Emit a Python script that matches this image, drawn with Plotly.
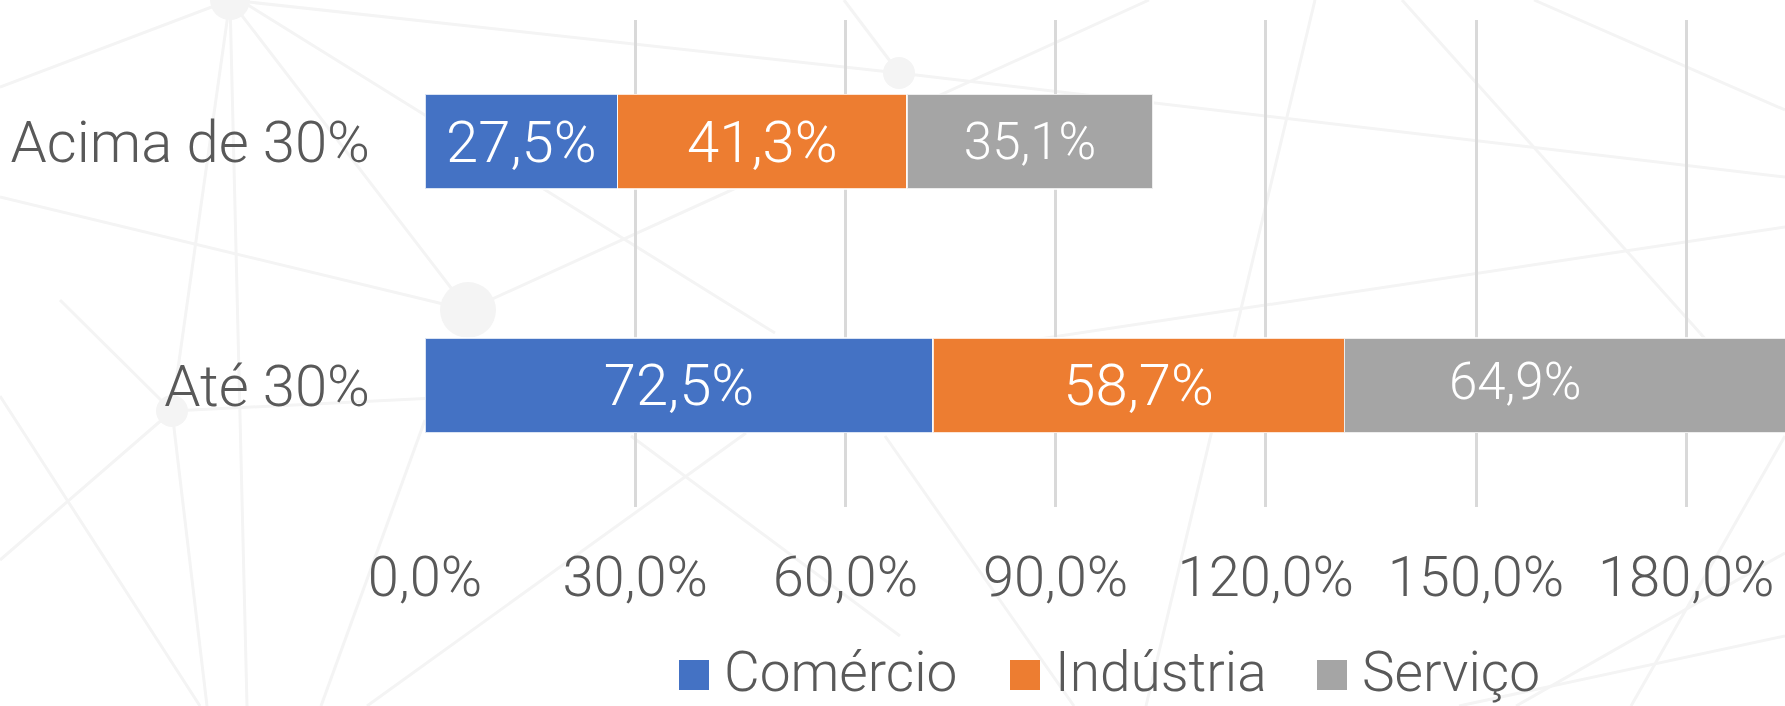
import plotly.graph_objects as go

# ---- data -------------------------------------------------------------
categories = ["Acima de 30%", "Até 30%"]
series_names = ["Comércio", "Indústria", "Serviço"]
comercio = [27.5, 72.5]
industria = [41.3, 58.7]
servico = [35.1, 64.9]
tick_values = [0, 30, 60, 90, 120, 150, 180]

series_values = [comercio, industria, servico]
colors = ["#4472C4", "#ED7D31", "#A5A5A5"]
label_sizes = [58, 58, 51]

FONT = "Roboto"
TEXT_GREY = "#595959"

W, H = 1785, 706
M_L, M_R, M_T, M_B = 425, 0, 20, 199
X_MAX = 194.1  # right edge of the plot area, in %


def pct(v):
    return f"{v:.1f}".replace(".", ",") + "%"


fig = go.Figure()

annotations = []
starts = [0.0] * len(categories)
for name, vals, col, fs in zip(series_names, series_values, colors, label_sizes):
    texts = []
    for i, v in enumerate(vals):
        end = starts[i] + v
        if end > X_MAX:
            # bar runs past the visible range: centre its label on the
            # part that lies before the last tick
            texts.append("")
            annotations.append(dict(
                x=(starts[i] + tick_values[-1]) / 2, y=categories[i],
                xref="x", yref="y", text=pct(v), showarrow=False, yshift=4,
                font=dict(family=FONT, size=fs, color="white", weight=300),
            ))
        else:
            texts.append(pct(v))
        starts[i] = end
    fig.add_trace(go.Bar(
        name=name, y=categories, x=vals, orientation="h",
        marker=dict(color=col, line=dict(color="rgba(255,255,255,0.8)", width=1.5)),
        text=texts, textposition="inside", insidetextanchor="middle",
        constraintext="none",
        textfont=dict(family=FONT, size=fs, color="white", weight=300),
        showlegend=False, hoverinfo="skip",
    ))

# ---- pixel -> paper helpers for the decorations ------------------------
pw, ph = W - M_L - M_R, H - M_T - M_B


def px(x):
    return (x - M_L) / pw


def py(y):
    return (H - M_B - y) / ph


shapes = []

# faint network pattern in the background (pixel coordinates)
net_lines = [
    [(230, 0), (0, 87)], [(230, 0), (172, 411)], [(230, 0), (247, 706)],
    [(230, 0), (468, 310)], [(240, 0), (775, 333)], [(0, 197), (468, 310)],
    [(230, 0), (899, 73), (1785, 177)], [(899, 73), (844, 0)],
    [(468, 310), (1149, 0)], [(1402, 0), (1700, 333), (1785, 430)],
    [(1534, 0), (1785, 110)], [(1315, 0), (1146, 706)],
    [(900, 360), (1785, 227)], [(172, 411), (700, 385)],
    [(172, 411), (0, 560)], [(172, 411), (207, 706)], [(60, 300), (172, 411)],
    [(0, 396), (200, 706)], [(367, 706), (746, 433)], [(425, 420), (321, 706)],
    [(631, 436), (900, 636)], [(885, 436), (1074, 706)],
    [(1785, 636), (1459, 706)], [(1785, 436), (1631, 706)],
    [(1516, 706), (1785, 553)],
]
net_nodes = [(468, 310, 28), (899, 73, 16), (172, 411, 16), (230, 0, 20)]

for pts in net_lines:
    for (x0, y0), (x1, y1) in zip(pts[:-1], pts[1:]):
        shapes.append(dict(
            type="line", xref="paper", yref="paper",
            x0=px(x0), y0=py(y0), x1=px(x1), y1=py(y1),
            line=dict(color="#F4F4F4", width=3), layer="below",
        ))
for cx, cy, r in net_nodes:
    shapes.append(dict(
        type="circle", xref="paper", yref="paper",
        x0=px(cx - r), x1=px(cx + r), y0=py(cy + r), y1=py(cy - r),
        fillcolor="#F4F4F4", line=dict(width=0), layer="below",
    ))

# legend row: coloured square followed by the series name
legend_x = [679, 1010, 1317]
LEG_Y, SQ = 672, 30
for name, col, lx in zip(series_names, colors, legend_x):
    shapes.append(dict(
        type="rect", xref="paper", yref="paper",
        x0=px(lx), x1=px(lx + SQ), y0=py(LEG_Y + 3 + SQ / 2), y1=py(LEG_Y + 3 - SQ / 2),
        fillcolor=col, line=dict(width=0), layer="above",
    ))
    annotations.append(dict(
        x=px(lx + SQ + 14), y=py(LEG_Y), xref="paper", yref="paper",
        text=name, showarrow=False, xanchor="left", yanchor="middle",
        borderpad=0,
        font=dict(family=FONT, size=55, color=TEXT_GREY, weight=300),
    ))

fig.update_layout(
    width=W, height=H,
    margin=dict(l=M_L, r=M_R, t=M_T, b=M_B, pad=0),
    barmode="stack", bargap=0.61,
    separators=",.",
    paper_bgcolor="white", plot_bgcolor="rgba(0,0,0,0)",
    font=dict(family=FONT, size=54, color=TEXT_GREY, weight=300),
    showlegend=False,
    annotations=annotations, shapes=shapes,
    xaxis=dict(
        range=[0, X_MAX], tickvals=tick_values,
        ticktext=[pct(t) for t in tick_values],
        showgrid=True, gridcolor="#D9D9D9", gridwidth=3,
        zeroline=False, showline=False, ticks="",
        ticklabelstandoff=32, fixedrange=True,
        tickfont=dict(family=FONT, size=56, color=TEXT_GREY, weight=300),
    ),
    yaxis=dict(
        autorange="reversed", showgrid=False, zeroline=False, showline=False,
        ticks="", ticklabelstandoff=54, fixedrange=True,
        tickfont=dict(family=FONT, size=58, color=TEXT_GREY, weight=300),
    ),
)

fig.write_html("out.html", config={"displayModeBar": False})
